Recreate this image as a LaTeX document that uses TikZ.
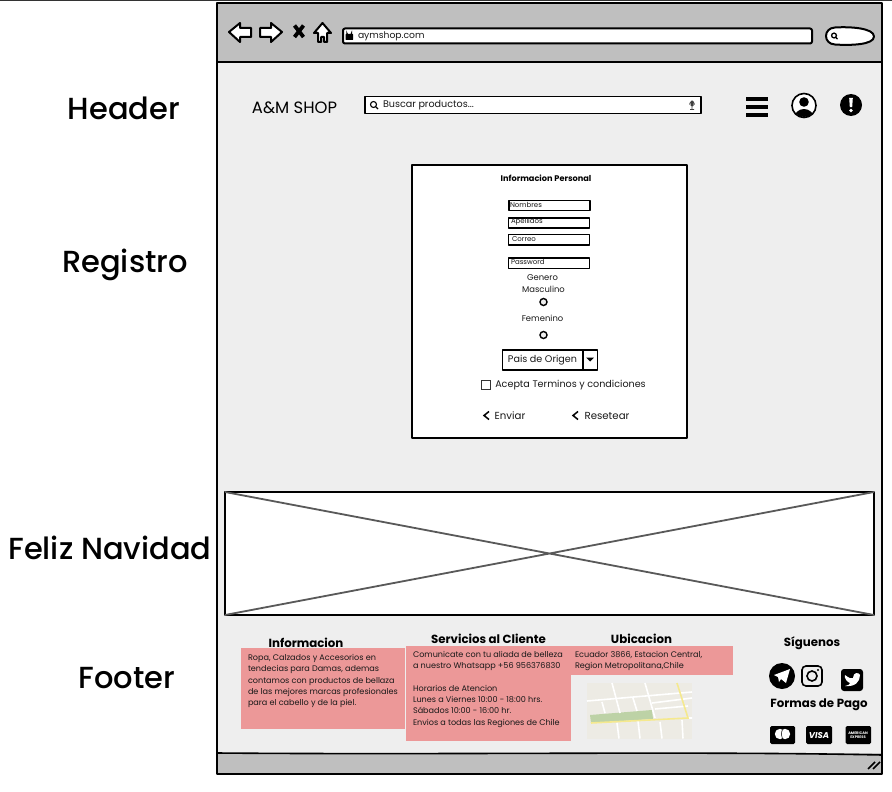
\documentclass[tikz,border=0pt]{standalone}
\usepackage{fontspec}
\setmainfont{Poppins}
\newfontfamily\medfont{Poppins Medium}
\definecolor{barg}{HTML}{BFBFBF}
\definecolor{pageg}{HTML}{EEEEEE}
\definecolor{pink}{HTML}{EC9898}
\definecolor{xline}{HTML}{595959}
\definecolor{mapbg}{HTML}{EDEBE4}
\definecolor{mapgreen}{HTML}{BDD2A6}
\definecolor{mapyellow}{HTML}{F5E98E}
\tikzset{
  every node/.style={outer sep=0pt},
  ink/.style={draw=black,line width=1.6pt,line join=round},
  thick ink/.style={draw=black,line width=2pt,line join=round},
  side/.style={font=\fontsize{30.5}{33}\medfont,anchor=center},
  field/.style={ink,fill=white},
  flabel/.style={font=\fontsize{7}{8}\selectfont,anchor=west,text=black!90,inner sep=0pt},
  ftext/.style={font=\fontsize{8.4}{9}\selectfont,anchor=center,inner sep=0pt,text=black!90},
  ctext/.style={font=\fontsize{9.6}{10}\selectfont,anchor=center,inner sep=0pt,text=black!90},
  head/.style={font=\fontsize{11.8}{12}\selectfont\bfseries,anchor=center,inner sep=0pt},
  bodytext/.style={font=\fontsize{8.1}{11.3}\selectfont,anchor=north west,inner sep=0pt,align=left,text=black!90},
  road/.style={draw=white,line width=1.6pt},
}
\begin{document}
\begin{tikzpicture}[x=1pt,y=-1pt]
\useasboundingbox (0,0) rectangle (892,792);
\fill[white] (0,0) rectangle (892,792);
\draw[black!80,line width=1pt] (0,1) -- (892,1);
% window
\path[fill=pageg] (217,3) rectangle (882,774);
\path[fill=barg] (217,3) rectangle (882,62);
\path[fill=barg] (217,753) rectangle (882,774);
\draw[ink] (217,3) -- (882,3) -- (882,774) -- (217,774) -- cycle;
\draw[ink] (217,62) -- (882,62);
\draw[ink] (217,753) .. controls (450,755) and (700,751) .. (882,755);
% grip
\draw[line width=1.5pt] (868,769) -- (875,762) (873,769) -- (880,762);
% nav
\draw[thick ink,fill=white] (229,32) -- (240,23) -- (240,28) -- (251,28) -- (251,37) -- (240,37) -- (240,42) -- cycle;
\draw[thick ink,fill=white] (282,32) -- (271,23) -- (271,28) -- (260,28) -- (260,37) -- (271,37) -- (271,42) -- cycle;
\draw[black,line width=3.8pt] (294.5,25.5) -- (303.5,37) (303.5,25.5) -- (294.5,37);
\draw[thick ink,fill=white] (322.5,23) -- (331,33) -- (327,33) -- (327,42) -- (324,42) -- (324,37) -- (321,37) -- (321,42) -- (318,42) -- (318,33) -- (314,33) -- cycle;
\node[thick ink,fill=white,rounded corners=2pt,minimum width=469pt,minimum height=15pt,inner sep=0pt,anchor=north west] (url) at (343,28.5) {};
\path[fill=black,rounded corners=.5pt] (345.5,34) rectangle (353,40);
\draw[black,line width=1.2pt] (347,34.5) -- (347,33.5) arc[start angle=180,end angle=0,radius=2.2] -- (351.4,34.5);
\node[font=\fontsize{9.2}{10}\selectfont,anchor=west,inner sep=0pt,text=black!90] (urltext) at (358,36) {aymshop.com};
\draw[thick ink,fill=white] (835,27.5) .. controls (850,26.5) and (874,28) .. (874,36.5) .. controls (874,45) and (850,45.5) .. (835,44.5) .. controls (823,44) and (823,28) .. (835,27.5) -- cycle;
\draw[black,line width=1.3pt] (834,35.5) circle[radius=2.4];
\draw[black,line width=1.4pt] (835.6,37.2) -- (837.5,39);
% header
\node[font=\fontsize{16.4}{17}\selectfont,anchor=center,inner sep=0pt] (logo) at (294.5,107.5) {A\&M SHOP};
\node[ink,fill=white,minimum width=336pt,minimum height=17pt,inner sep=0pt,anchor=north west] (search) at (365,96.5) {};
\draw[black,line width=1.1pt] (373.5,104.5) circle[radius=3] (375.7,106.7) -- (378,109);
\node[font=\fontsize{9.6}{10}\selectfont,anchor=west,inner sep=0pt,text=black!90] (searchtext) at (383,105) {Buscar productos...};
\fill[black!75,rounded corners=1pt] (690.5,100.5) rectangle (693.5,106.5);
\draw[black!75,line width=.8pt] (689.5,104.5) arc[start angle=180,end angle=360,radius=2.5] (692,107) -- (692,109.5) (690,109.5) -- (694,109.5);
\foreach \yy in {99,107,115} \fill[black] (746,\yy-2) rectangle (768,\yy+2);
% profile
\begin{scope}
\draw[black,line width=1.6pt,fill=white] (804,105.5) circle[radius=12];
\clip (804,105.5) circle[radius=11.5];
\fill[black] (804,102) circle[radius=4.8];
\fill[black] (804,118.5) ellipse[x radius=10,y radius=9.5];
\end{scope}
% alert
\fill[black] (851,105) circle[radius=11];
\fill[white] (849.2,98) -- (852.8,98) -- (852.2,107) -- (849.8,107) -- cycle;
\fill[white] (851,110.5) circle[radius=1.8];
% form
\node[ink,fill=white,minimum width=275pt,minimum height=273pt,inner sep=0pt,anchor=north west] (form) at (412,165) {};
\node[font=\fontsize{8.2}{9}\selectfont\bfseries,inner sep=0pt] (ftitle) at (546,178) {Informacion Personal};
\node[field,minimum width=81pt,minimum height=10pt,inner sep=0pt,anchor=north west] (f1) at (509,200.5) {};
\node[field,minimum width=81pt,minimum height=10pt,inner sep=0pt,anchor=north west] (f2) at (508.5,218) {};
\node[field,minimum width=81pt,minimum height=10.5pt,inner sep=0pt,anchor=north west] (f3) at (508.5,234.5) {};
\node[field,minimum width=81pt,minimum height=10.5pt,inner sep=0pt,anchor=north west] (f4) at (508.5,258) {};
\node[flabel] (l1) at (510,205) {Nombres};
\node[flabel] (l2) at (511,222) {Apellidos};
\node[flabel] (l3) at (512,239) {Correo};
\node[flabel] (l4) at (511,262) {Password};
\node[ftext] (g) at (542.5,277.5) {Genero};
\node[ftext] (m) at (543.5,289.5) {Masculino};
\draw[black,line width=1.4pt,fill=pageg] (543.5,302) circle[radius=3.5];
\node[ftext] (fe) at (542.5,318.5) {Femenino};
\draw[black,line width=1.4pt,fill=pageg] (543.5,335) circle[radius=3.5];
\node[ink,fill=white,minimum width=95pt,minimum height=20pt,inner sep=0pt,anchor=north west] (dd) at (502.5,350) {};
\draw[black,line width=1.2pt] (583,350) -- (583,370);
\node[ctext] (ddt) at (542.5,360) {Pais de Origen};
\fill[black] (586,357.5) -- (594,357.5) -- (590,361.5) -- cycle;
\draw[black!80,line width=.9pt,fill=white] (481,380.5) rectangle (490,389.5);
\node[ctext] (acc) at (570.5,385) {Acepta Terminos y condiciones};
\draw[black,line width=1.5pt] (489,411.5) -- (484,415.5) -- (489,419.5);
\node[ctext,font=\fontsize{10.2}{11}\selectfont] (env) at (510,415.5) {Enviar};
\draw[black,line width=1.5pt] (578,411.5) -- (573,415.5) -- (578,419.5);
\node[ctext,font=\fontsize{10.2}{11}\selectfont] (res) at (607,415.5) {Resetear};
% banner
\node[ink,fill=white,minimum width=649pt,minimum height=123pt,inner sep=0pt,anchor=north west] (ban) at (225,492) {};
\draw[xline,line width=1.8pt] (ban.north west) -- (ban.south east) (ban.south west) -- (ban.north east);
% footer
\fill[pink] (241,648) rectangle (405,729);
\fill[pink] (406,646) rectangle (571,741);
\fill[pink] (571,646) rectangle (733,675);
\node[head] (h1) at (306,643) {Informacion};
\node[head] (h2) at (488.5,638.5) {Servicios al Cliente};
\node[head] (h3) at (641.5,638.5) {Ubicacion};
\node[head] (h4) at (812,643) {Síguenos};
\node[head] (h5) at (819,705) {Formas de Pago};
\node[bodytext] (t1) at (248,654.5) {Ropa, Calzados y Accesorios en\\tendecias para Damas, ademas\\contamos con productos de bellaza\\de las mejores marcas profesionales\\para el cabello y de la piel.};
\node[bodytext] (t2) at (413,651.5) {Comunicate con tu aliada de belleza\\a nuestro Whatsapp +56 956376830\\[11pt]Horarios de Atencion\\Lunes a Viernes 10:00 - 18:00 hrs.\\Sábados 10:00 - 16:00 hr.\\Envios a todas las Regiones de Chile};
\node[bodytext] (t3) at (575,651.5) {Ecuador 3866, Estacion Central,\\Region Metropolitana,Chile};
% map
\fill[mapbg] (587,683) rectangle (692,738.5);
\fill[mapgreen] (590,715) -- (652,710) -- (653,719) -- (591,723) -- cycle;
\draw[road] (587,701) -- (692,692) (652,703) -- (692,698) (655,709) -- (688,706);
\draw[road] (612,683) -- (620,713) (617,723) -- (619,738.5);
\draw[road] (645,683) -- (655,718) (660,722) -- (662,738.5);
\draw[road] (602,702) -- (605,713) (633,698) -- (637,711) (638,721) -- (640,738.5) (682,720) -- (683,738.5) (688,718) -- (692,718);
\draw[mapyellow,line width=1.6pt] (591,723) -- (688,718) -- (677,683);
% social
\fill[black] (782,676) circle[radius=13];
\fill[white] (774,675) -- (790,669) -- (786,683) -- (781,679) -- (779,682) -- (778,677) -- cycle;
\draw[black,line width=1.6pt,rounded corners=4pt] (802,666) rectangle (822,686);
\draw[black,line width=1.6pt] (812,676) circle[radius=5];
\fill[black] (818,670) circle[radius=1.2];
\fill[black,rounded corners=3pt] (841,669) rectangle (863,691);
\fill[white] (845,675) .. controls (849,678) and (851,679) .. (853,678) .. controls (853,672) and (859,672) .. (860,675) .. controls (860,682) and (855,687) .. (845,686) .. controls (849,685) and (850,684) .. (850,683) .. controls (847,682) and (844,678) .. (845,675) -- cycle;
% cards
\fill[black,rounded corners=1.5pt] (770,726) rectangle (795,744);
\fill[white] (780,734) circle[radius=5.2];
\fill[white] (785,734) circle[radius=5.2];
\draw[black,line width=.5pt] (782.5,729.5) .. controls (781,733) and (781,736) .. (782.5,739);
\fill[black,rounded corners=1.5pt] (806,726) rectangle (832,744);
\node[font=\fontsize{8.5}{9}\selectfont\bfseries\itshape,text=white,inner sep=0pt] (visa) at (819,735) {VISA};
\fill[black,rounded corners=1.5pt] (845.5,726) rectangle (871,744);
\node[font=\fontsize{3.6}{4}\selectfont\bfseries,text=white,inner sep=0pt,align=center] (amex) at (858,735) {AMERICAN\\EXPRESS};
% side labels
\node[side] (s1) at (124,108) {Header};
\node[side] (s2) at (125,265) {Registro};
\node[side] (s3) at (110,548) {Feliz Navidad};
\node[side] (s4) at (127,678.5) {Footer};
\end{tikzpicture}
\end{document}
